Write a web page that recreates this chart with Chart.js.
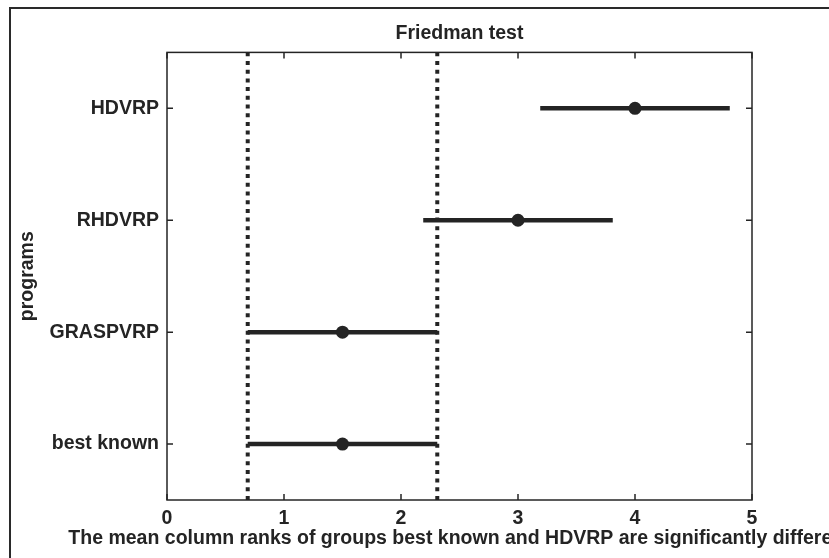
<!doctype html>
<html>
<head>
<meta charset="utf-8" />
<title>Friedman test</title>
<script src="https://cdn.jsdelivr.net/npm/chart.js@4.4.1/dist/chart.umd.min.js"></script>
<style>
  html, body { margin: 0; padding: 0; background: #fff; }
</style>
</head>
<body>
<canvas id="chart" width="829" height="558"></canvas>
<script>
// groups, bottom to top
const programs = ["best known", "GRASPVRP", "RHDVRP", "HDVRP"];
const meanRanks = [1.5, 1.5, 3.0, 4.0];
const lowerBounds = [0.69, 0.69, 2.19, 3.19];
const upperBounds = [2.31, 2.31, 3.81, 4.81];
const xRange = [0, 5];
const yRange = [0.5, 4.5];
const selected = 0; // "best known" -> dotted limits

const chartTitle = "Friedman test";
const xTitle = "The mean column ranks of groups best known and HDVRP are significantly different";
const yTitle = "programs";

const ink = "#242424";
const fontFamily = "'Liberation Sans', Arial, sans-serif";
const font = { family: fontFamily, size: 19.5, weight: "bold" };

// figure frame + boxed axes with inward ticks (matlab style)
// x label drawn here because chart.js squeezes titles to the axis width
const framePlugin = {
  id: "frame",
  beforeDraw(chart) {
    const ctx = chart.ctx;
    ctx.save();
    ctx.fillStyle = "#fff";
    ctx.fillRect(0, 0, chart.width, chart.height);
    ctx.strokeStyle = "#2a2a2a";
    ctx.lineWidth = 2;
    ctx.beginPath();
    ctx.moveTo(10, chart.height);
    ctx.lineTo(10, 8);
    ctx.lineTo(chart.width, 8);
    ctx.stroke();
    ctx.restore();
  },
  afterDraw(chart) {
    const { ctx, chartArea: a, scales } = chart;
    const x = scales.x, y = scales.y;
    const tl = 6;
    ctx.save();
    ctx.strokeStyle = ink;
    ctx.lineWidth = 1.5;
    ctx.strokeRect(a.left, a.top, a.right - a.left, a.bottom - a.top);
    ctx.beginPath();
    x.ticks.forEach(t => {
      const px = x.getPixelForValue(t.value);
      ctx.moveTo(px, a.bottom); ctx.lineTo(px, a.bottom - tl);
      ctx.moveTo(px, a.top); ctx.lineTo(px, a.top + tl);
    });
    y.ticks.forEach(t => {
      const py = y.getPixelForValue(t.value);
      ctx.moveTo(a.left, py); ctx.lineTo(a.left + tl, py);
      ctx.moveTo(a.right, py); ctx.lineTo(a.right - tl, py);
    });
    ctx.stroke();

    ctx.fillStyle = ink;
    ctx.font = "bold " + font.size + "px " + fontFamily;
    ctx.textAlign = "center";
    ctx.textBaseline = "middle";
    ctx.fillText(xTitle, (a.left + a.right) / 2, a.bottom + 39);
    ctx.restore();
  }
};

const datasets = [];
datasets.push({
  label: "mean rank",
  data: programs.map((p, i) => ({ x: meanRanks[i], y: i + 1 })),
  pointRadius: 6.5,
  pointBackgroundColor: ink,
  pointBorderWidth: 0,
  order: 0
});
programs.forEach((p, i) => {
  datasets.push({
    label: p,
    data: [{ x: lowerBounds[i], y: i + 1 }, { x: upperBounds[i], y: i + 1 }],
    showLine: true,
    borderColor: ink,
    borderWidth: 4.5,
    borderCapStyle: "butt",
    pointRadius: 0,
    order: 1
  });
});
[lowerBounds[selected], upperBounds[selected]].forEach(v => {
  datasets.push({
    label: "limit",
    data: [{ x: v, y: yRange[0] }, { x: v, y: yRange[1] }],
    showLine: true,
    borderColor: ink,
    borderWidth: 4,
    borderDash: [4, 4.7],
    borderCapStyle: "butt",
    pointRadius: 0,
    order: 2
  });
});

new Chart(document.getElementById("chart"), {
  type: "scatter",
  data: { datasets: datasets },
  options: {
    responsive: false,
    animation: false,
    layout: { padding: { top: 12, right: 77, left: 0, bottom: 0 } },
    plugins: {
      legend: { display: false },
      tooltip: { enabled: false },
      title: {
        display: true,
        text: chartTitle,
        color: ink,
        font: font,
        fullSize: false,
        padding: { top: 10, bottom: 7 }
      }
    },
    scales: {
      x: {
        type: "linear",
        min: xRange[0],
        max: xRange[1],
        ticks: { stepSize: 1, color: ink, font: font, padding: 7 },
        grid: { display: false, drawTicks: false },
        border: { display: false },
        title: { display: false },
        afterFit(s) { s.height = 58; }
      },
      y: {
        type: "linear",
        min: yRange[0],
        max: yRange[1],
        afterBuildTicks(s) { s.ticks = programs.map((p, i) => ({ value: i + 1 })); },
        ticks: { color: ink, font: font, padding: 8, callback: v => programs[v - 1] },
        grid: { display: false, drawTicks: false },
        border: { display: false },
        title: { display: true, text: yTitle, color: ink, font: font, padding: { top: 16, bottom: 0 } },
        afterFit(s) { s.width = 167; }
      }
    }
  },
  plugins: [framePlugin]
});
</script>
</body>
</html>
